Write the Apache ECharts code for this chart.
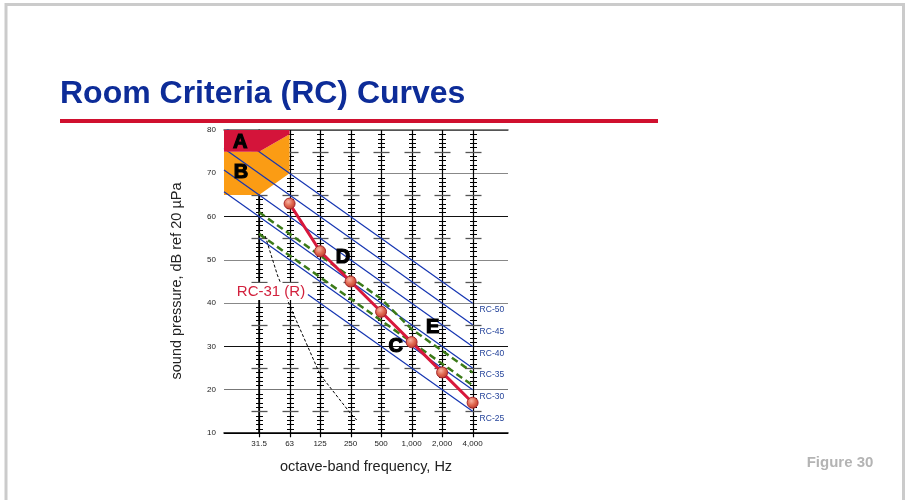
<!DOCTYPE html>
<html>
<head>
<meta charset="utf-8">
<title>Room Criteria (RC) Curves</title>
<script src="https://cdn.jsdelivr.net/npm/echarts@6/dist/echarts.min.js"></script>
<style>
  html, body { margin: 0; padding: 0; background: #fff; }
  #chart { width: 907px; height: 500px; }
</style>
</head>
<body>
<div id="chart"></div>
<script>
// Octave bands (x positions are band indices: 31.5 Hz = 0 ... 4 kHz = 7)
const bands = ['31.5', '63', '125', '250', '500', '1,000', '2,000', '4,000'];

// Measured spectrum, dB per band (no reading at 31.5 Hz)
const measured = [null, 63, 52, 45, 38, 31, 24, 17];

// RC reference curves: start band position, level there, level at 4 kHz
const rcNames = ['RC-50', 'RC-45', 'RC-40', 'RC-35', 'RC-30', 'RC-25'];
const rcStartBand = [-1.15, -1.15, -1.15, -1.15, 0, 1.6];
const rcStartLevel = [80.75, 75.75, 70.75, 65.75, 55, 42];
const rcEndLevel = [40, 35, 30, 25, 20, 15];

// RC-31 rating line and its upper tolerance line, dB per band
const ratingLine = [56, 51, 46, 41, 36, 31, 26, 21];
const toleranceLine = [61, 56, 51, 46, 41, 34, 29, 24];

// Threshold of hearing (band position, dB)
const thresholdBand = [0.2, 0.6, 1, 2, 3, 3.2];
const thresholdLevel = [55.5, 46.5, 39.5, 23.5, 14.5, 13];

// Vibration regions A and B (band position, dB)
const regionABand = [-1.15, -1.15, 0, 1, 1];
const regionALevel = [80, 75, 75, 79, 80];
const regionBBand = [-1.15, 0, 1, 1, 0, -1.15];
const regionBLevel = [75, 75, 79, 70, 65, 65];

const chart = echarts.init(document.getElementById('chart'), null, { renderer: 'canvas' });

const FONT = '"Liberation Sans", Arial, Helvetica, sans-serif';
const X_MIN = -1.15, X_MAX = 8.16;

function crisp(v) { return Math.round(v) + 0.5; }

// Vertical dB ruler on every band: 1 dB ticks, longer ticks every 5 dB
function renderRuler(params, api) {
  const x = api.value(0);
  const top = api.coord([x, 80]);
  const bottom = api.coord([x, 9]);
  const cx = crisp(top[0]);
  const children = [{
    type: 'line',
    shape: { x1: cx, y1: top[1], x2: cx, y2: bottom[1] },
    style: { stroke: '#000', lineWidth: 1.2 }
  }];
  for (let v = 11; v < 80; v++) {
    if (v % 10 === 0) continue;
    const p = api.coord([x, v]);
    const major = v % 5 === 0;
    const half = major ? 8 : 3.5;
    const y = crisp(p[1]);
    children.push({
      type: 'line',
      shape: { x1: cx - half, y1: y, x2: cx + half, y2: y },
      style: { stroke: major ? '#555' : '#000', lineWidth: major ? 1.3 : 1 }
    });
  }
  return { type: 'group', children };
}

function polygonRenderer(bx, lv, color) {
  return function (params, api) {
    return {
      type: 'polygon',
      shape: { points: bx.map((b, k) => api.coord([b, lv[k]])) },
      style: { fill: color }
    };
  };
}

const rcSeries = rcNames.map((name, k) => ({
  name: name,
  type: 'line',
  z: 4,
  silent: true,
  symbol: 'none',
  clip: true,
  data: [[rcStartBand[k], rcStartLevel[k]], [bands.length - 1, rcEndLevel[k]]],
  lineStyle: { color: '#1535b2', width: 1.2 }
}));

const option = {
  backgroundColor: '#fff',
  animation: false,
  grid: { left: 224, right: 399, top: 130, bottom: 67, containLabel: false },
  xAxis: [
    {
      type: 'value', min: X_MIN, max: X_MAX,
      axisLine: { show: true, lineStyle: { color: '#000', width: 1.5 } },
      axisTick: { show: false },
      splitLine: { show: false },
      axisLabel: {
        customValues: bands.map((b, i) => i),
        formatter: v => bands[Math.round(v)],
        color: '#222', fontFamily: FONT, fontSize: 8, margin: 7
      }
    },
    {
      type: 'value', min: X_MIN, max: X_MAX, position: 'top',
      axisLine: { show: true, lineStyle: { color: '#555', width: 1.5 } },
      axisTick: { show: false }, axisLabel: { show: false }, splitLine: { show: false }
    }
  ],
  yAxis: [
    {
      type: 'value', min: 10, max: 80, interval: 10,
      axisLine: { show: true, lineStyle: { color: '#000', width: 1 } },
      axisTick: { show: false },
      axisLabel: { color: '#222', fontFamily: FONT, fontSize: 8, margin: 8 },
      splitLine: {
        show: true,
        lineStyle: {
          color: ['#000', '#777', '#111', '#888', '#888', '#111', '#888', '#555'],
          width: 1
        }
      }
    },
    {
      type: 'value', min: 10, max: 80, position: 'right',
      axisLine: { show: true, lineStyle: { color: '#000', width: 1.5 } },
      axisTick: { show: false }, axisLabel: { show: false }, splitLine: { show: false }
    }
  ],
  series: [
    {
      type: 'custom', z: 1, silent: true,
      data: bands.map((b, i) => [i]),
      renderItem: renderRuler
    },
    {
      type: 'custom', z: 2, silent: true, data: [[0, 0]],
      renderItem: polygonRenderer(regionBBand, regionBLevel, '#fb9c14')
    },
    ...rcSeries,
    {
      type: 'custom', z: 5, silent: true, data: [[0, 0]],
      renderItem: polygonRenderer(regionABand, regionALevel, '#d4143a')
    },
    {
      name: 'RC-31', type: 'line', z: 6, silent: true, symbol: 'none',
      data: ratingLine.map((v, i) => [i, v]),
      lineStyle: { color: '#3b7a18', width: 2.5, type: [7, 4] }
    },
    {
      name: 'RC-31 tolerance', type: 'line', z: 6, silent: true, symbol: 'none',
      data: toleranceLine.map((v, i) => [i, v]),
      lineStyle: { color: '#3b7a18', width: 2.5, type: [7, 4] }
    },
    {
      name: 'threshold', type: 'line', z: 6, silent: true, symbol: 'none',
      data: thresholdBand.map((b, k) => [b, thresholdLevel[k]]),
      lineStyle: { color: '#000', width: 1, type: [3, 2] }
    },
    {
      name: 'measured', type: 'line', z: 10, silent: true,
      data: measured.map((v, i) => (v == null ? null : [i, v])).filter(p => p),
      lineStyle: { color: '#d8183c', width: 3 },
      symbol: 'circle', symbolSize: 11,
      itemStyle: {
        color: new echarts.graphic.RadialGradient(0.4, 0.35, 0.7, [
          { offset: 0, color: '#f7b3a3' },
          { offset: 0.5, color: '#e0684f' },
          { offset: 1, color: '#b8342a' }
        ]),
        borderColor: '#a6262a', borderWidth: 1
      }
    }
  ]
};

chart.setOption(option);

// Annotations placed in data coordinates, converted through the grid's scales
function at(band, level) { return chart.convertToPixel({ gridIndex: 0 }, [band, level]); }

function letter(ch, band, level) {
  const p = at(band, level);
  return {
    type: 'text', x: p[0], y: p[1], z: 100, silent: true,
    style: {
      text: ch, fill: '#000', font: 'bold 20px ' + FONT,
      stroke: '#000', lineWidth: 1.2,
      align: 'center', verticalAlign: 'middle'
    }
  };
}

const graphics = [
  {
    type: 'rect', silent: true, z: -1,
    shape: { x: 6, y: 4.5, width: 897.5, height: 520 },
    style: { fill: 'none', stroke: '#cbcbcb', lineWidth: 3 }
  },
  {
    type: 'text', x: 60, y: 94.5, silent: true,
    style: {
      text: 'Room Criteria (RC) Curves', fill: '#0d2c98',
      font: 'bold 32px ' + FONT, verticalAlign: 'middle'
    }
  },
  {
    type: 'rect', silent: true,
    shape: { x: 60, y: 119, width: 598, height: 4 },
    style: { fill: '#d0102f' }
  },
  {
    type: 'text', x: 177, y: 281, rotation: Math.PI / 2, silent: true,
    style: {
      text: 'sound pressure, dB ref 20 \u00b5Pa', fill: '#222',
      font: '14.5px ' + FONT, align: 'center', verticalAlign: 'middle'
    }
  },
  {
    type: 'text', x: 366, y: 467, silent: true,
    style: {
      text: 'octave-band frequency, Hz', fill: '#222',
      font: '14.5px ' + FONT, align: 'center', verticalAlign: 'middle'
    }
  },
  {
    type: 'text', x: 840, y: 463, silent: true,
    style: {
      text: 'Figure 30', fill: '#b4b4b4',
      font: 'bold 15px ' + FONT, align: 'center', verticalAlign: 'middle'
    }
  }
];

// Rating label on a white box that hides the curves running behind it
(function () {
  const p = at(0.39, 42.6);
  graphics.push({
    type: 'rect', silent: true, z: 95,
    shape: { x: p[0] - 35, y: p[1] - 9, width: 70, height: 17 },
    style: { fill: '#fff' }
  });
  graphics.push({
    type: 'text', x: p[0], y: p[1], z: 96, silent: true,
    style: {
      text: 'RC-31 (R)', fill: '#d2213d', font: '15px ' + FONT,
      align: 'center', verticalAlign: 'middle'
    }
  });
})();

graphics.push(
  letter('A', -0.62, 77.2),
  letter('B', -0.59, 70.3),
  letter('D', 2.75, 50.5),
  letter('E', 5.69, 34.3),
  letter('C', 4.48, 29.9)
);

// RC curve names just below each curve's 4 kHz end
rcNames.forEach((name, k) => {
  const p = at(bands.length - 1, rcEndLevel[k]);
  graphics.push({
    type: 'text', x: p[0] + 7, y: p[1] + 7, z: 90, silent: true,
    style: {
      text: name, fill: '#24439a', font: '8.5px ' + FONT,
      align: 'left', verticalAlign: 'middle'
    }
  });
});

chart.setOption({ graphic: graphics });
</script>
</body>
</html>
